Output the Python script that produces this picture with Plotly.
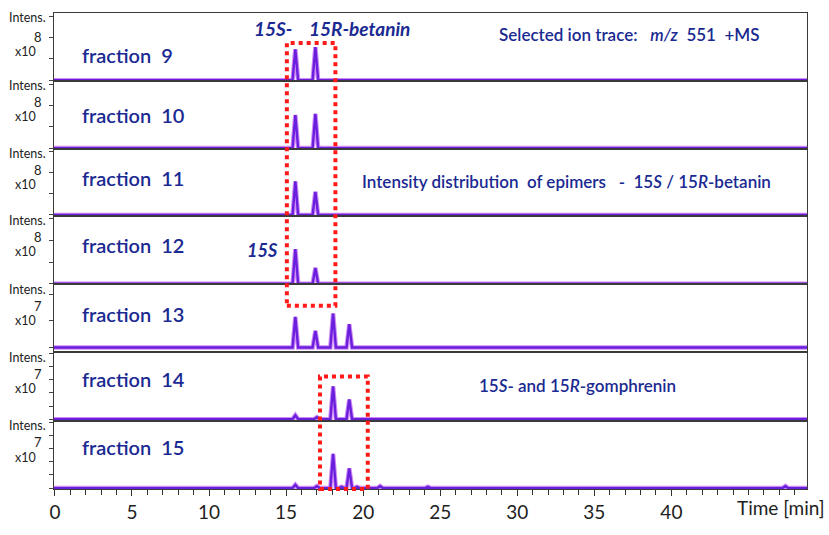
import plotly.graph_objects as go

# ---------------- data ----------------
fractions = ["9", "10", "11", "12", "13", "14", "15"]
exponents = [8, 8, 8, 8, 7, 7, 7]
# retention times (min) and peak heights (in units of 10^exponent) per fraction
peak_times = [
    [15.6, 16.9],
    [15.6, 16.9],
    [15.6, 16.9],
    [15.6, 16.9],
    [15.6, 16.9, 18.05, 19.1],
    [15.6, 17.0, 18.05, 19.1],
    [15.6, 17.0, 18.05, 18.6, 19.1, 19.6, 21.1, 24.2, 47.4],
]
peak_heights = [
    [1.45, 1.55],
    [1.55, 1.60],
    [1.60, 1.10],
    [1.60, 0.73],
    [2.30, 1.25, 2.55, 1.75],
    [0.30, 0.15, 2.50, 1.50],
    [0.25, 0.15, 2.60, 0.10, 1.50, 0.10, 0.15, 0.10, 0.15],
]
x_tick_vals = [0, 5, 10, 15, 20, 25, 30, 35, 40]

# ---------------- layout constants ----------------
W, H = 829, 535
L, R, T, B = 54, 807, 12, 503
panel_px = [12, 82, 152, 221, 292, 362, 433, 503]
y_ranges = [[-0.03, 3.15]] * 4 + [[-0.36, 4.73], [-0.15, 5.1], [-0.07, 5.1]]
y_dticks = [1, 1, 1, 1, 2, 1, 1]
x_range = [-0.06, 48.8]
half_w = 0.18
blue = "#1a2a92"
font = "Lato"


def py(p):
    return (B - p) / (B - T)


def px(p):
    return (p - L) / (R - L)


fig = go.Figure()
n = len(fractions)
for i in range(n):
    xs, ys = [x_range[0]], [0]
    for t, h in zip(peak_times[i], peak_heights[i]):
        xs += [t - half_w, t, t + half_w]
        ys += [0, h, 0]
    xs.append(x_range[1])
    ys.append(0)
    ax = "" if i == 0 else str(i + 1)
    fig.add_trace(go.Scatter(x=xs, y=ys, mode="lines", xaxis="x" + ax, yaxis="y" + ax,
                             line=dict(color="#cf8af6", width=4.5), hoverinfo="skip",
                             showlegend=False))
    fig.add_trace(go.Scatter(x=xs, y=ys, mode="lines", xaxis="x" + ax, yaxis="y" + ax,
                             line=dict(color="#6a1fdc", width=2.4), showlegend=False,
                             name="fraction " + fractions[i]))

layout = dict(width=W, height=H, margin=dict(l=L, r=W - R, t=T, b=H - B),
              paper_bgcolor="white", plot_bgcolor="white", showlegend=False)
for i in range(n):
    ax = "" if i == 0 else str(i + 1)
    bottom = i == n - 1
    layout["xaxis" + ax] = dict(
        domain=[0, 1], anchor="y" + ax, range=x_range, showgrid=False, zeroline=False,
        showline=True, mirror=True, linecolor="#3a3a3a", linewidth=1.2,
        showticklabels=bottom, ticks="outside" if bottom else "",
        tickvals=x_tick_vals if bottom else None, ticklen=6, tickcolor="#333",
        tickfont=dict(family=font, size=19, color="#222"),
        minor=dict(dtick=1, ticks="outside", ticklen=5, tickcolor="#333") if bottom else None,
        matches=None if i == 0 else "x",
    )
    layout["yaxis" + ax] = dict(
        domain=[py(panel_px[i + 1]), py(panel_px[i])], anchor="x" + ax,
        range=y_ranges[i], dtick=y_dticks[i], tick0=0, showgrid=False, zeroline=False,
        showline=True, mirror=True, linecolor="#3a3a3a", linewidth=1.2,
        ticks="outside", ticklen=4, tickcolor="#444", showticklabels=False,
    )
fig.update_layout(**layout)

ann = []
frac_y = [55, 117, 182, 251, 322, 390, 460]
for i in range(n):
    top = panel_px[i]
    off = 3 if i == 0 else 0
    ann.append(dict(x=px(48), y=py(top + 5), text="Intens.", xanchor="right",
                    font=dict(family=font, size=12.5, color="#222")))
    ann.append(dict(x=px(44), y=py(top + 22 + off), text=str(exponents[i]), xanchor="right",
                    font=dict(family=font, size=13, color="#222")))
    ann.append(dict(x=px(38), y=py(top + 37 + off), text="x10", xanchor="right",
                    font=dict(family=font, size=12.5, color="#222")))
    ann.append(dict(x=px(80), y=py(frac_y[i]), text="fraction  " + fractions[i], xanchor="left",
                    font=dict(family=font, size=20, color=blue, weight=600)))

texts = [
    (252, 28, "<i>15S-    15R-betanin</i>", 19, 700),
    (497, 34, "Selected ion trace:   <i>m/z</i>  551  +MS", 17, 600),
    (360, 186, "Intensity distribution  of epimers   -  15<i>S</i> / 15<i>R</i>-betanin", 17, 600),
    (245, 256, "<i>15S</i>", 18, 700),
    (477, 396, "15<i>S</i>- and 15<i>R</i>-gomphrenin", 17, 600),
]
for x, y, t, s, wgt in texts:
    ann.append(dict(x=px(x), y=py(y), text=t, xanchor="left",
                    font=dict(family=font, size=s, color=blue, weight=wgt)))
ann.append(dict(x=px(735), y=py(522), text="Time [min]", xanchor="left",
                font=dict(family=font, size=19, color="#222")))
for a in ann:
    a.update(xref="paper", yref="paper", yanchor="middle", showarrow=False)
fig.update_layout(annotations=ann)

# red dotted boxes
red = "#ff1a1a"
fig.add_shape(type="rect", xref="x7", yref="paper", x0=15.05, x1=18.2, y0=py(314), y1=py(43),
              line=dict(color=red, width=4, dash="dot"), layer="above")
fig.add_shape(type="rect", xref="x7", yref="paper", x0=17.2, x1=20.3, y0=py(503), y1=py(387),
              line=dict(color=red, width=4, dash="dot"), layer="above")

fig.write_html("out.html")
